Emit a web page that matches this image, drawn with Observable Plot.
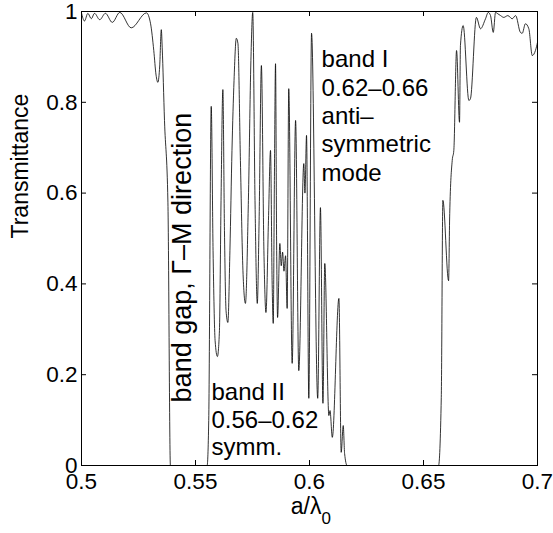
<!DOCTYPE html>
<html><head><meta charset="utf-8">
<script src="https://cdn.jsdelivr.net/npm/d3@7"></script>
<script src="https://cdn.jsdelivr.net/npm/@observablehq/plot@0.6"></script>
<style>body{margin:0;background:#fff}</style>
</head><body><div id="chart"></div>
<script>
// normalized frequency a/lambda0
const freq = [
0.5000,0.5013,0.5028,0.5043,0.5057,0.5080,0.5105,0.5135,0.5168,0.5218,0.5285,0.5303,0.5317,0.5327,0.5335,0.5343,0.5350,0.5354,0.5364,0.5379,0.5390,
0.5551,0.5558,0.5569,0.5577,0.5586,0.5596,0.5605,0.5612,0.5620,0.5627,0.5634,0.5642,0.5651,0.5660,0.5669,0.5679,0.5686,0.5697,0.5708,0.5719,
0.5732,0.5743,0.5751,0.5761,0.5771,0.5779,0.5789,0.5800,0.5809,0.5820,0.5829,0.5836,0.5841,0.5846,0.5851,0.5856,0.5860,0.5870,0.5876,0.5882,
0.5888,0.5895,0.5902,0.5909,0.5924,0.5939,0.5953,0.5975,0.5980,0.5987,0.5997,0.6009,0.6036,0.6048,0.6059,0.6067,0.6085,0.6090,0.6100,0.6129,
0.6139,0.6148,0.6154,0.6165,
0.6566,0.6578,0.6585,0.6610,0.6615,0.6626,0.6633,0.6645,0.6658,0.6662,0.6674,0.6699,0.6706,0.6732,0.6750,0.6772,0.6784,0.6794,0.6806,0.6816,
0.6826,0.6838,0.6852,0.6870,0.6889,0.6904,0.6925,0.6933,0.6947,0.6962,0.6977,0.6991,0.7000];
// transmittance
const trans = [
0.997,0.979,0.996,0.984,0.996,0.982,0.996,0.976,0.998,0.964,0.997,0.973,0.914,0.860,0.844,0.880,0.960,0.920,0.760,0.580,0.000,
0.000,0.099,0.791,0.474,0.275,0.240,0.297,0.584,0.828,0.518,0.341,0.315,0.474,0.694,0.848,0.941,0.930,0.672,0.430,0.357,
0.584,0.892,0.998,0.584,0.357,0.540,0.881,0.474,0.337,0.540,0.694,0.407,0.313,0.628,0.885,0.474,0.326,0.489,0.440,0.470,
0.428,0.462,0.346,0.830,0.225,0.760,0.209,0.665,0.600,0.727,0.148,0.952,0.148,0.568,0.137,0.445,0.110,0.121,0.062,0.368,
0.029,0.088,0.026,0.000,
0.000,0.150,0.584,0.407,0.555,0.672,0.694,0.914,0.756,0.925,0.969,0.804,0.808,0.987,0.962,0.984,0.998,0.991,0.954,0.998,
0.995,0.991,0.987,0.991,0.984,0.991,0.954,0.952,0.973,0.962,0.903,0.914,0.932];

const xTicks = [0.5, 0.55, 0.6, 0.65, 0.7];
const xTickLabels = ["0.5", "0.55", "0.6", "0.65", "0.7"];
const yTicks = [0, 0.2, 0.4, 0.6, 0.8, 1];
const yTickLabels = ["0", "0.2", "0.4", "0.6", "0.8", "1"];
const yTitle = "Transmittance";
const xTitleMain = "a/λ";
const xTitleSub = "0";
const noteBandI = "band I\n0.62–0.66\nanti–\nsymmetric\nmode";
const noteBandII = "band II\n0.56–0.62\nsymm.";
const noteGap = "band gap, Γ–M direction";
// annotation anchor positions (data units)
const noteBandIPos = [0.6053, 0.921];
const noteBandIIPos = [0.5570, 0.187];
const noteGapPos = [0.5443, 0.139];

const data = freq.map((f, i) => ({f, t: trans[i]}));
const W = 553, H = 533, mL = 81, mR = 16, mT = 11, mB = 68;
const innerW = W - mL - mR, innerH = H - mT - mB;
const font = "'Liberation Sans', Arial, Helvetica, sans-serif";

const chart = Plot.plot({
  width: W, height: H,
  marginLeft: mL, marginRight: mR, marginTop: mT, marginBottom: mB,
  x: {domain: [0.5, 0.7]},
  y: {domain: [0, 1]},
  style: {fontFamily: font, fontSize: "22px", color: "#000", background: "#fff"},
  marks: [
    Plot.line(data, {x: "f", y: "t", stroke: "#000", strokeWidth: 0.8, curve: "monotone-x"}),
    Plot.frame({stroke: "#000", strokeWidth: 1}),
    Plot.tickX(xTicks, {x: d => d, insetTop: innerH - 5, stroke: "#000"}),
    Plot.tickX(xTicks, {x: d => d, insetBottom: innerH - 5, stroke: "#000"}),
    Plot.tickY(yTicks, {y: d => d, insetRight: innerW - 5, stroke: "#000"}),
    Plot.tickY(yTicks, {y: d => d, insetLeft: innerW - 5, stroke: "#000"}),
    Plot.axisX({ticks: xTicks, tickFormat: (d, i) => xTickLabels[i], tickSize: 0, tickPadding: 8, label: null, fontSize: 22.5, fill: "#000"}),
    Plot.axisY({ticks: yTicks, tickFormat: (d, i) => yTickLabels[i], tickSize: 0, tickPadding: 4, label: null, fontSize: 22.5, fill: "#000"}),
    Plot.text([yTitle], {frameAnchor: "left", rotate: -90, dx: -61, fontSize: 23, fill: "#000"}),
    Plot.text([xTitleMain], {frameAnchor: "bottom", dx: 12, dy: 48, textAnchor: "end", fontSize: 23, fill: "#000"}),
    Plot.text([xTitleSub], {frameAnchor: "bottom", dx: 12, dy: 58, textAnchor: "start", fontSize: 17, fill: "#000"}),
    Plot.text([noteBandI], {x: noteBandIPos[0], y: noteBandIPos[1], textAnchor: "start", lineAnchor: "top", lineHeight: 1.18, fontSize: 24, fill: "#000"}),
    Plot.text([noteBandII], {x: noteBandIIPos[0], y: noteBandIIPos[1], textAnchor: "start", lineAnchor: "top", lineHeight: 1.15, fontSize: 24, fill: "#000"}),
    Plot.text([noteGap], {x: noteGapPos[0], y: noteGapPos[1], rotate: -90, textAnchor: "start", lineAnchor: "middle", fontSize: 27, fill: "#000"})
  ]
});
document.getElementById("chart").appendChild(chart);
</script>
</body></html>
